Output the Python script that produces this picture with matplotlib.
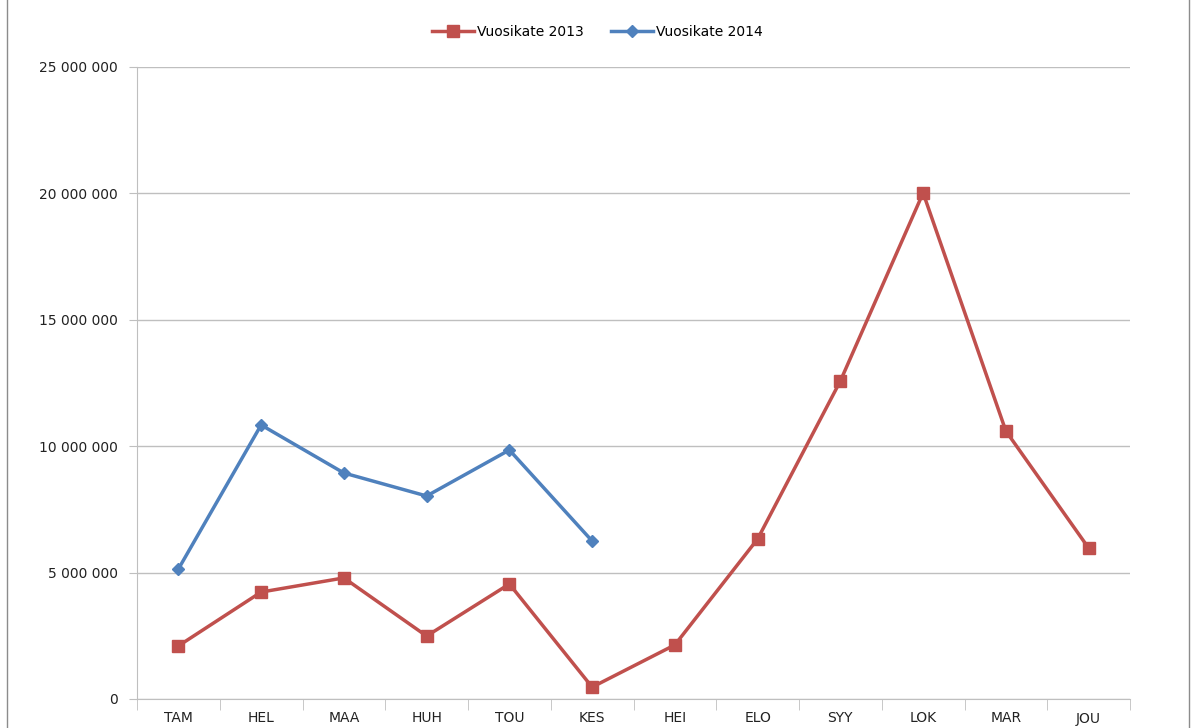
import matplotlib.pyplot as plt
import matplotlib.ticker as ticker
from matplotlib.lines import Line2D
import numpy as np

months = ['TAM', 'HEL', 'MAA', 'HUH', 'TOU', 'KES', 'HEI', 'ELO', 'SYY', 'LOK', 'MAR', 'JOU']
vk_2013 = [2.10e6, 4.23e6, 4.79e6, 2.49e6, 4.55e6, 0.47e6, 2.14e6, 6.33e6, 12.58e6, 20.02e6, 10.60e6, 5.97e6]
vk_2014 = [5.14e6, 10.84e6, 8.94e6, 8.03e6, 9.85e6, 6.25e6]

W, H = 1195, 728
fig = plt.figure(figsize=(W / 100, H / 100), dpi=100)
ax = fig.add_axes([137 / W, 1 - 699 / H, (1130 - 137) / W, (699 - 67) / H])

x = np.arange(len(months))
ax.plot(x, vk_2013, '-', color='#c0504d', lw=2.5, marker='s', ms=8,
        label='Vuosikate 2013')
ax.plot(x[:len(vk_2014)], vk_2014, '-', color='#4f81bd', lw=2.5, marker='D', ms=6,
        label='Vuosikate 2014')

ax.set_xlim(-0.5, len(months) - 0.5)
ax.set_ylim(0, 25e6)
ax.yaxis.set_major_locator(ticker.MultipleLocator(5e6))
ax.yaxis.set_major_formatter(ticker.FuncFormatter(lambda v, p: f'{int(v):,}'.replace(',', ' ')))
ax.grid(axis='y', color='#bfbfbf', lw=1)
ax.set_axisbelow(True)

ax.set_xticks(x)
ax.set_xticklabels(months)
ax.set_xticks(np.arange(-0.5, len(months)), minor=True)
ax.tick_params(axis='x', which='major', length=0, pad=9)
ax.tick_params(axis='x', which='minor', direction='out', length=8, color='#bfbfbf')
ax.tick_params(axis='y', length=6, color='#bfbfbf', pad=8)
ax.tick_params(labelsize=10, labelcolor='#222222')

for s in ['top', 'right']:
    ax.spines[s].set_visible(False)
ax.spines['left'].set_color('#bfbfbf')
ax.spines['bottom'].set_color('#bfbfbf')

fig.legend(loc='upper center', bbox_to_anchor=(0.5, 1 - 12 / H), ncol=2, frameon=False,
           fontsize=10, handlelength=3, columnspacing=2, handletextpad=0.2)

# chart frame edges (left and right only visible in the crop)
for xf in (7 / W, 1189 / W):
    fig.add_artist(Line2D([xf, xf], [0, 1], transform=fig.transFigure, color='#8c8c8c', lw=1))

fig.savefig('out.png', dpi=100)
